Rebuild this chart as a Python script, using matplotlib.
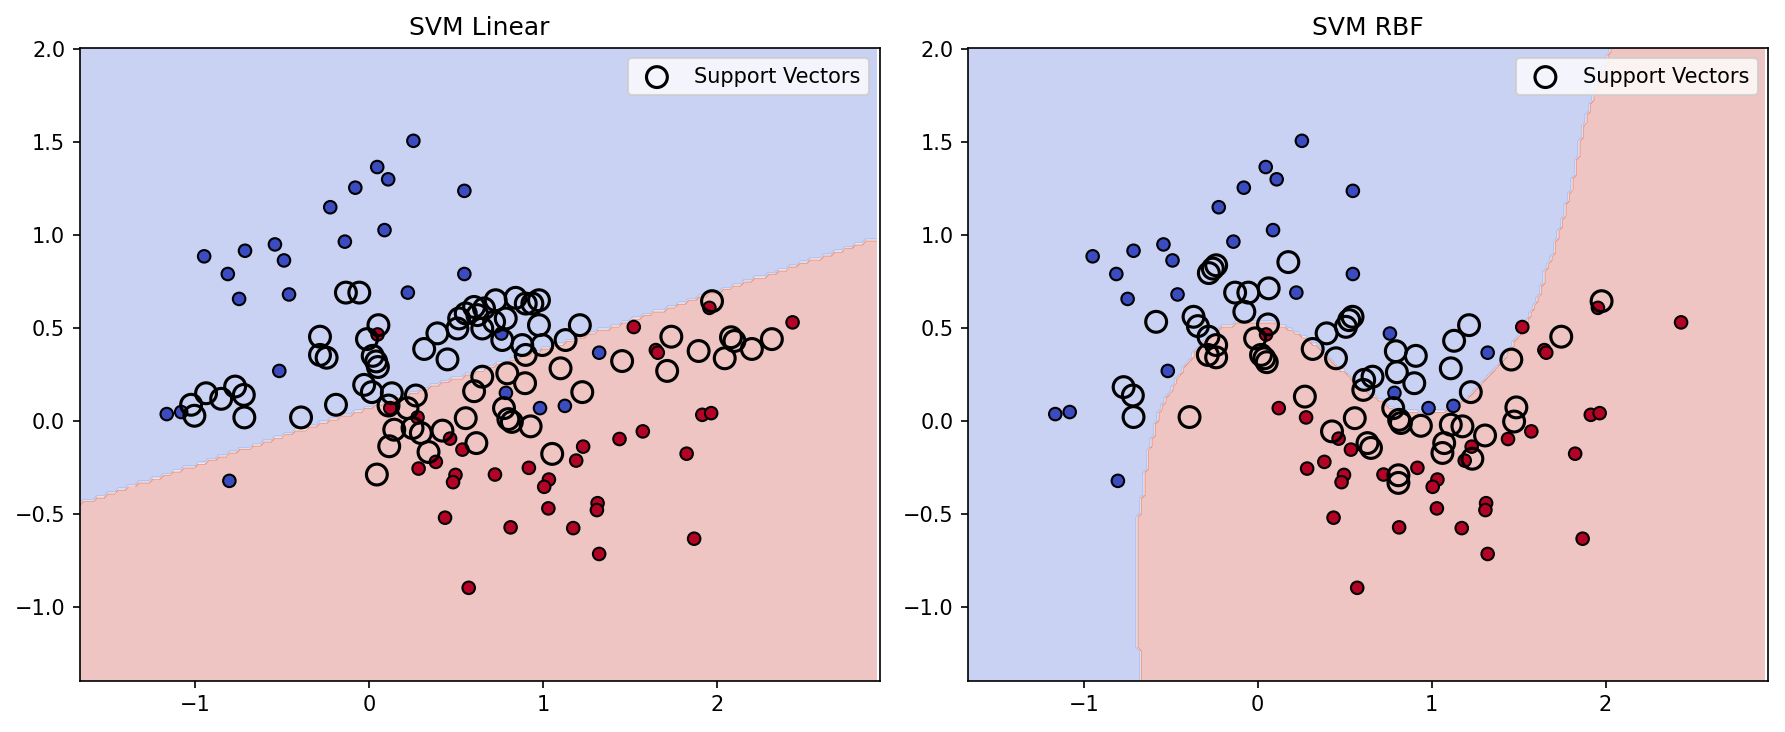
import numpy as np
import matplotlib.pyplot as plt
from matplotlib.path import Path

# filled points (class 0 = blue, class 1 = red)
blue_pts = [
    (0.254, 1.506), (0.046, 1.365), (0.109, 1.299), (-0.080, 1.254), (0.547, 1.237),
    (-0.224, 1.149), (0.088, 1.026), (-0.140, 0.964), (-0.949, 0.885), (-0.714, 0.915),
    (-0.542, 0.949), (-0.490, 0.863), (-0.813, 0.790), (0.547, 0.790), (-0.748, 0.656),
    (-0.461, 0.680), (0.222, 0.690), (0.760, 0.470), (1.322, 0.367), (-0.517, 0.269),
    (-1.164, 0.037), (-1.081, 0.048), (-0.804, -0.322), (0.786, 0.151), (0.982, 0.069),
    (1.125, 0.081),
]
red_pts = [
    (0.048, 0.465), (1.521, 0.505), (1.956, 0.608), (2.434, 0.530), (1.648, 0.381),
    (1.659, 0.367), (0.121, 0.069), (0.278, 0.019), (0.465, -0.095), (0.536, -0.154),
    (0.284, -0.256), (0.383, -0.220), (0.496, -0.290), (0.482, -0.329), (0.436, -0.520),
    (0.572, -0.897), (1.915, 0.033), (1.966, 0.042), (1.573, -0.056), (1.439, -0.097),
    (1.825, -0.176), (1.230, -0.138), (1.190, -0.213), (0.723, -0.288), (0.918, -0.252),
    (1.033, -0.315), (1.006, -0.354), (1.313, -0.442), (1.309, -0.479), (1.030, -0.470),
    (0.813, -0.572), (1.173, -0.576), (1.868, -0.633), (1.322, -0.715),
]

# support vectors of each model
sv_linear = [
    (-1.024, 0.087), (-1.005, 0.028), (-0.938, 0.149), (-0.851, 0.119), (-0.771, 0.185),
    (-0.721, 0.140), (-0.718, 0.019), (-0.392, 0.019), (-0.191, 0.087), (-0.134, 0.690),
    (-0.057, 0.690), (-0.283, 0.453), (-0.283, 0.355), (-0.245, 0.340), (0.053, 0.515),
    (-0.013, 0.440), (0.020, 0.350), (0.040, 0.320), (0.050, 0.290), (-0.029, 0.194),
    (0.015, 0.155), (0.130, 0.149), (0.268, 0.137), (0.111, 0.083), (0.220, 0.069),
    (0.144, -0.047), (0.249, -0.038), (0.297, -0.065), (0.421, -0.052), (0.115, -0.136),
    (0.341, -0.167), (0.044, -0.288), (0.555, 0.015), (0.603, 0.160), (0.616, -0.119),
    (0.316, 0.387), (0.392, 0.471), (0.450, 0.331), (0.507, 0.497), (0.517, 0.551),
    (0.555, 0.578), (0.603, 0.613), (0.622, 0.569), (0.650, 0.497), (0.660, 0.605),
    (0.727, 0.649), (0.718, 0.533), (0.785, 0.551), (0.842, 0.662), (0.900, 0.631),
    (0.938, 0.631), (0.976, 0.649), (0.976, 0.515), (0.765, 0.435), (0.880, 0.408),
    (0.900, 0.355), (0.995, 0.408), (1.129, 0.435), (1.211, 0.515), (1.100, 0.283),
    (0.794, 0.256), (0.650, 0.238), (0.896, 0.203), (1.225, 0.155), (1.454, 0.322),
    (1.737, 0.453), (1.713, 0.269), (1.971, 0.644), (1.894, 0.376), (2.080, 0.450),
    (2.100, 0.430), (2.044, 0.337), (2.200, 0.387), (2.315, 0.440), (0.775, 0.069),
    (0.800, 0.010), (0.820, -0.005), (0.928, -0.029), (1.052, -0.177),
]
sv_rbf = [
    (0.176, 0.854), (-0.239, 0.837), (-0.258, 0.819), (-0.281, 0.795), (-0.130, 0.690),
    (-0.054, 0.690), (0.063, 0.713), (-0.077, 0.587), (-0.584, 0.533), (-0.369, 0.560),
    (-0.344, 0.510), (-0.283, 0.453), (-0.239, 0.408), (-0.287, 0.355), (-0.239, 0.342),
    (0.059, 0.519), (-0.015, 0.444), (0.019, 0.355), (0.038, 0.337), (0.052, 0.316),
    (0.396, 0.471), (0.316, 0.387), (0.450, 0.337), (0.507, 0.506), (0.526, 0.542),
    (0.545, 0.560), (-0.771, 0.182), (-0.718, 0.137), (-0.714, 0.021), (-0.392, 0.021),
    (0.271, 0.131), (0.558, 0.015), (0.427, -0.056), (0.612, 0.221), (0.607, 0.167),
    (0.631, -0.119), (0.651, -0.145), (1.977, 0.644), (1.745, 0.453), (1.215, 0.515),
    (1.129, 0.431), (0.794, 0.375), (0.909, 0.350), (1.458, 0.330), (0.660, 0.238),
    (0.800, 0.262), (0.900, 0.203), (1.110, 0.283), (1.225, 0.155), (0.779, 0.069),
    (0.813, 0.006), (0.823, -0.011), (0.938, -0.026), (1.110, -0.020), (1.177, -0.029),
    (1.072, -0.119), (1.062, -0.172), (1.307, -0.078), (1.234, -0.203), (1.487, 0.073),
    (1.474, -0.003), (0.809, -0.292), (0.809, -0.333),
]

# linear boundary: y = slope * x + icpt (blue above)
lin_slope = 0.311
lin_icpt = 0.075

# rbf boundary, bottom to top, red region lies right/below it
rbf_edge = [
    (-0.68, -1.60), (-0.68, -1.39), (-0.69, -1.00), (-0.695, -0.556), (-0.66, -0.378),
    (-0.626, -0.163), (-0.574, 0.033), (-0.507, 0.158), (-0.45, 0.247), (-0.392, 0.328),
    (-0.335, 0.408), (-0.201, 0.506), (-0.125, 0.524), (0.105, 0.524), (0.220, 0.479),
    (0.335, 0.408), (0.431, 0.310), (0.498, 0.265), (0.565, 0.203), (0.660, 0.140),
    (0.794, 0.060), (0.928, 0.042), (1.072, 0.051), (1.177, 0.104), (1.273, 0.185),
    (1.339, 0.247), (1.387, 0.301), (1.425, 0.355), (1.454, 0.390), (1.560, 0.551),
    (1.607, 0.649), (1.655, 0.801), (1.693, 0.890), (1.741, 1.051), (1.789, 1.212),
    (1.827, 1.355), (1.856, 1.515), (1.876, 1.587), (1.93, 1.75), (2.03, 2.00),
    (2.08, 2.20),
]

X = np.array(blue_pts + red_pts)
y = np.array([0] * len(blue_pts) + [1] * len(red_pts))

x_min, x_max = X[:, 0].min() - 0.5, X[:, 0].max() + 0.5
y_min, y_max = X[:, 1].min() - 0.5, X[:, 1].max() + 0.5
h = 0.02
xx, yy = np.meshgrid(np.arange(x_min, x_max, h), np.arange(y_min, y_max, h))
grid = np.c_[xx.ravel(), yy.ravel()]


def linear_predict(P):
    return (P[:, 1] < lin_slope * P[:, 0] + lin_icpt).astype(int)


def rbf_predict(P):
    poly = rbf_edge + [(3.5, 2.2), (3.5, -1.6)]
    return Path(poly).contains_points(P).astype(int)


fig, axes = plt.subplots(1, 2, figsize=(11.9, 4.88), dpi=150)
fig.subplots_adjust(left=0.0447, right=0.9905, bottom=0.0699, top=0.9347, wspace=0.111)

for ax, title, predict, sv in [
    (axes[0], "SVM Linear", linear_predict, sv_linear),
    (axes[1], "SVM RBF", rbf_predict, sv_rbf),
]:
    Z = predict(grid).reshape(xx.shape)
    ax.contourf(xx, yy, Z, alpha=0.3, cmap="coolwarm")
    ax.scatter(X[:, 0], X[:, 1], c=y, cmap="coolwarm", edgecolors="k")
    sv = np.array(sv)
    ax.scatter(sv[:, 0], sv[:, 1], s=100, facecolors="none", edgecolors="k",
               linewidths=1.5, label="Support Vectors")
    ax.set_xlim(x_min, x_max)
    ax.set_ylim(y_min, y_max)
    ax.set_title(title)
    ax.legend(loc="upper right")

plt.savefig("out.png")
